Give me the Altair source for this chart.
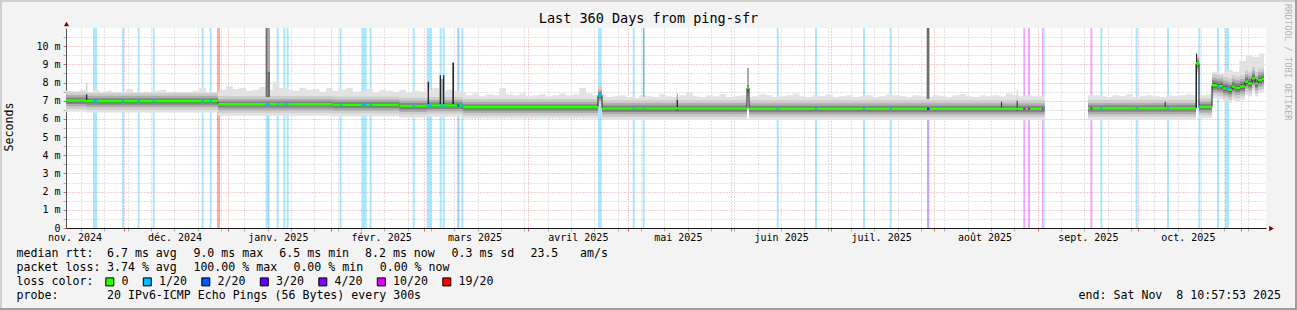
import altair as alt
import pandas as pd
from datetime import datetime, timedelta

MONO = "DejaVu Sans Mono"

# ------------------------------------------------------------------ time frame
END = datetime(2025, 11, 8, 10, 57, 53)
START = END - timedelta(days=360)


def day(dt):
    return round((dt - START).total_seconds() / 86400.0, 4)


month_starts = [datetime(2024, 12, 1)] + [datetime(2025, m, 1) for m in range(1, 12)]
mondays = [datetime(2024, 11, 18) + timedelta(weeks=k) for k in range(51)]
label_dates = [datetime(2024, 11, 16), datetime(2024, 12, 16)] + [datetime(2025, m, 16) for m in range(1, 11)]
label_text = ["nov. 2024", "déc. 2024", "janv. 2025", "févr. 2025", "mars 2025", "avril 2025",
              "mai 2025", "juin 2025", "juil. 2025", "août 2025", "sept. 2025", "oct. 2025"]
y_ticks = [v / 2 for v in range(0, 22)]          # 0 .. 10.5 ms

# ------------------------------------------------------------------ series (day offsets, ms)
# median change points; None closes a run of data (gap afterwards)
med_day = [0.0, 6.0, 45.6, 80.0, 100.0, 108.3, 119.0, 159.6, 160.8, 204.3, 204.9, 293.6,
           306.6, 339.0, 339.9, 343.8, 345.3, 347.1, 348.6, 349.8, 350.7, 352.2, 353.7,
           354.6, 355.8, 356.7, 357.6, 358.8, 359.4]
med_ms = [7.01, 6.97, 6.80, 6.77, 6.70, 6.74, 6.64, 7.30, 6.57, 7.70, 6.56, None,
          6.58, 9.05, 6.66, 7.85, 7.80, 7.68, 7.60, 7.78, 7.70, 7.78, 8.05,
          7.95, 8.23, 7.95, 8.14, 8.20, None]

# upper edge of the smoke, one value per 2-day cell
top_ms = [
    7.55, 7.5, 7.6, 7.45, 7.6, 7.5, 7.55, 7.4, 7.5, 7.65,
    7.45, 7.5, 7.4, 7.55, 7.6, 7.45, 7.5, 7.4, 7.45, 7.55,
    7.7, 7.5, 7.45,
    7.6, 7.8, 7.65, 7.7, 7.55, 7.6, 7.75, 7.6, 8.05, 7.7,
    7.6, 7.55, 7.7, 7.6, 7.65, 7.5, 7.7, 7.55, 7.6, 7.7,
    7.5, 7.55, 7.65, 7.45, 7.6, 7.55, 7.5, 7.6, 7.45, 7.55,
    7.5,
    7.6, 7.7, 7.5, 7.6, 7.55, 7.5,
    7.3, 7.4, 7.25, 7.35, 7.3, 7.7, 7.35, 7.3, 7.4, 7.25,
    7.3, 7.35, 7.25, 7.3, 7.4, 7.3, 7.35, 7.7, 7.4, 7.3,
    7.35, 7.2, 7.25, 7.3, 7.2, 7.15, 7.3, 7.25, 7.2, 7.35,
    7.25, 7.2, 7.3, 7.45, 7.25, 7.2, 7.3, 7.25, 7.35, 7.2,
    7.25, 7.3, 7.2, 7.25, 7.35, 7.3, 7.2, 7.25, 7.3, 7.4,
    7.25, 7.2, 7.3, 7.25, 7.35, 7.2, 7.25, 7.3, 7.2, 7.25,
    7.3, 7.2, 7.25, 7.35, 7.3, 7.25, 7.2, 7.3, 7.25, 7.2,
    7.3, 7.25, 7.2, 7.3, 7.35, 7.25, 7.2, 7.3, 7.25, 7.3,
    7.25, 7.4, 7.3, 7.25, 7.3, 7.25,
    7.25, None, None, None, None, None, None, 7.3,
    7.3, 7.25, 7.2, 7.3, 7.25, 7.35, 7.2, 7.25, 7.3, 7.25,
    7.2, 7.3, 7.25, 7.3, 7.35, 7.3, 7.3, 7.35,
    8.6, 8.5, 8.7, 8.6, 9.2, 9.5, 9.4, 9.6,
]

# smoke spread around the median (ms): normal period and the last, noisier days
lo_norm = [-0.62, -0.46, -0.32, -0.19, -0.09]
hi_norm = [None, 0.46, 0.30, 0.17, 0.07]
lo_wide = [-0.72, -0.55, -0.38, -0.24, -0.12]
hi_wide = [None, 0.62, 0.42, 0.26, 0.12]
wide_from = 343.8

# packet-loss bars
bar_d0 = [8.1, 16.8, 21.5, 26.0, 40.7, 43.1, 45.3, 59.9, 63.2, 65.2, 66.2, 82.1, 88.7, 91.1,
          104.0, 108.2, 112.1, 113.0, 117.4, 118.6, 159.6, 170.0, 173.0, 213.2, 224.7, 239.1,
          247.1, 258.3, 287.2, 288.6, 292.8, 293.2, 307.3, 310.3, 320.9, 330.3, 339.7, 345.3, 347.7]
bar_d1 = [9.3, 17.4, 22.1, 26.6, 41.3, 43.7, 46.2, 61.1, 63.8, 65.8, 66.8, 82.7, 90.2, 91.7,
          104.6, 109.7, 112.7, 113.6, 118.0, 119.2, 160.7, 170.6, 173.6, 213.8, 225.3, 239.7,
          247.7, 259.0, 287.8, 289.2, 293.2, 293.6, 307.9, 310.9, 321.5, 330.9, 340.3, 345.9, 348.9]
bar_lvl = ["1/20", "1/20", "1/20", "1/20", "1/20", "1/20", "19/20", "1/20", "1/20", "1/20", "1/20",
           "1/20", "1/20", "1/20", "1/20", "1/20", "1/20", "1/20", "2/20", "1/20", "1/20", "1/20",
           "1/20", "1/20", "1/20", "1/20", "1/20", "3/20", "10/20", "10/20", "10/20", "1/20",
           "10/20", "1/20", "1/20", "1/20", "1/20", "1/20", "1/20"]

# isolated high pings (narrow smoke columns)
spk_d0 = [6.0, 6.0, 59.9, 60.5, 60.5, 108.5, 112.1, 112.5, 113.1, 115.9, 159.6, 173.1, 183.2,
          183.2, 204.3, 258.2, 280.5, 285.2, 285.2, 329.6, 339.0]
spk_d1 = [6.4, 6.4, 60.5, 61.2, 61.2, 108.9, 112.5, 113.1, 113.5, 116.4, 160.8, 173.5, 183.6,
          183.6, 204.9, 259.0, 280.8, 285.5, 285.5, 329.9, 339.3]
spk_lo = [6.95, 7.35, 7.2, 8.6, 7.2, 6.8, 6.7, 7.0, 6.7, 6.7, 7.6, 7.2, 6.45,
          7.05, 8.0, 7.1, 6.5, 6.45, 7.0, 6.5, 6.6]
spk_hi = [7.35, 8.0, 11.0, 11.0, 8.6, 8.05, 8.4, 8.2, 8.4, 9.1, 7.85, 11.0, 7.05,
          7.4, 8.8, 11.0, 6.95, 7.0, 7.6, 6.95, 9.6]
spk_tone = ["black", "light", "dark", "mid", "dark", "black", "black", "mid", "black", "black",
            "light", "mid", "black", "mid", "mid", "dark", "black", "black", "light", "black", "black"]

loss_levels = ["0", "1/20", "2/20", "3/20", "4/20", "10/20", "19/20"]

legend_rows = [
    ["median rtt:", "6.7 ms avg", "9.0 ms max", "6.5 ms min", "8.2 ms now", "0.3 ms sd", "23.5", "am/s"],
    ["packet loss:", "3.74 % avg", "100.00 % max", "0.00 % min", "0.00 % now"],
    ["loss color:"],
    ["probe:", "20 IPv6-ICMP Echo Pings (56 Bytes) every 300s"],
]
end_text = "end: Sat Nov\u00a0 8 10:57:53 2025"
title_text = "Last 360 Days from ping-sfr"
ylabel_text = "Seconds"
credit_text = "RRDTOOL / TOBI OETIKER"

# ------------------------------------------------------------------ styles
loss_colors = ["#26ff00", "#00b8ff", "#0059ff", "#5e00ff", "#7e00ff", "#dd00ff", "#ff0000"]
smoke_shades = ["#e2e2e2", "#cdcdcd", "#adadad", "#868686", "#5c5c5c"]
tone_names = ["black", "dark", "mid", "light"]
tone_colors = ["#2a2a2a", "#6e6e6e", "#a8a8a8", "#d0d0d0"]
RED_GRID = "#f09a9a"
GRAY_GRID = "#c6c6c6"
row_x = [[-49.4, 41, 127.4, 213.3, 299, 385.5, 464.4, 514],
         [-49.4, 41, 127.4, 227.4, 313.7],
         [-49.4],
         [-49.4, 41]]
row_y = [226, 240, 254, 268]

# ------------------------------------------------------------------ tables
runs, cur = [], []
for d, v in zip(med_day, med_ms):
    if v is None:
        runs.append((cur, d))
        cur = []
    else:
        cur.append((d, v))


def median_at(t):
    for pts, end in runs:
        if pts[0][0] <= t < end:
            val = pts[0][1]
            for d, v in pts:
                if d <= t:
                    val = v
            return val
    return None


smoke_rows, line_rows, med_rows = [], [], []
for r, (pts, end) in enumerate(runs):
    start = pts[0][0]
    cuts = sorted(set([d for d, _ in pts] +
                      [2.0 * i for i in range(len(top_ms)) if start < 2.0 * i < end]))
    for p in cuts + [end]:
        q = p if p < end else cuts[-1]
        m = median_at(q)
        plo, phi = (lo_wide, hi_wide) if q >= wide_from else (lo_norm, hi_norm)
        cell = top_ms[min(int(q // 2), len(top_ms) - 1)]
        top = max(cell if cell is not None else 0.0, m + phi[1] + 0.05)
        for b in range(len(smoke_shades)):
            smoke_rows.append({"d": p, "run": r, "band": b,
                               "lo": round(m + plo[b], 3),
                               "hi": round(top if b == 0 else m + phi[b], 3)})
    for i, (d, v) in enumerate(pts):
        line_rows.append({"d": d, "v": v, "run": r})
        d1 = pts[i + 1][0] if i + 1 < len(pts) else end
        med_rows.append({"d0": d, "d1": d1, "lo": v - 0.07, "hi": v + 0.07, "lvl": "0"})
    line_rows.append({"d": end, "v": pts[-1][1], "run": r})

for d0, d1, lvl in zip(bar_d0, bar_d1, bar_lvl):
    if lvl == "19/20":
        continue
    m = median_at((d0 + d1) / 2)
    if m is not None:
        med_rows.append({"d0": d0, "d1": d1, "lo": m - 0.07, "hi": m + 0.07, "lvl": lvl})

smoke_df = pd.DataFrame(smoke_rows)
line_df = pd.DataFrame(line_rows)
med_df = pd.DataFrame(med_rows)
bar_df = pd.DataFrame({"d0": bar_d0, "d1": bar_d1, "lvl": bar_lvl})
spk_df = pd.DataFrame({"d0": spk_d0, "d1": spk_d1, "lo": spk_lo, "hi": spk_hi, "tone": spk_tone})

# ------------------------------------------------------------------ scales & axes
xs = alt.Scale(domain=[0, 360], nice=False, zero=False)
ys = alt.Scale(domain=[0, 11], nice=False)
loss_scale = alt.Scale(domain=loss_levels, range=loss_colors)

grid_major = [day(d) for d in month_starts]
grid_vals = sorted(set(grid_major + [day(d) for d in mondays]))
major_test = "indexof([" + ",".join(repr(v) for v in grid_major) + "], datum.value) >= 0"
label_pos = [day(d) for d in label_dates]
label_expr = ("[" + ",".join("'" + t + "'" for t in label_text) + "][indexof([" +
              ",".join(repr(v) for v in label_pos) + "], datum.value)]")

x_grid_axis = alt.Axis(orient="bottom", values=grid_vals, labels=False, ticks=True, tickSize=3,
                       tickColor={"condition": {"test": major_test, "value": "#e06666"}, "value": "#b0b0b0"},
                       grid=True, gridDash=[1, 2], gridWidth=1,
                       gridColor={"condition": {"test": major_test, "value": RED_GRID}, "value": GRAY_GRID},
                       domain=False, title=None)
x_label_axis = alt.Axis(orient="bottom", values=label_pos, labelExpr=label_expr, ticks=False, grid=False,
                        domain=True, domainColor="#1a1a1a", domainWidth=1, labelFont=MONO, labelFontSize=10,
                        labelColor="black", labelPadding=4, labelFlush=False, labelOverlap=False, title=None)
int_test = "datum.value % 1 == 0"
y_axis = alt.Axis(orient="left", values=y_ticks,
                  labelExpr="datum.value % 1 == 0 ? (datum.value == 0 ? '0\u00a0\u00a0' : datum.value + ' m') : ''",
                  tickSize=3, tickColor={"condition": {"test": int_test, "value": "#e06666"}, "value": "#b0b0b0"},
                  grid=True, gridDash=[1, 2], gridWidth=1,
                  gridColor={"condition": {"test": int_test, "value": RED_GRID}, "value": GRAY_GRID},
                  domain=True, domainColor="#555555", domainWidth=1, labelFont=MONO, labelFontSize=10,
                  labelColor="black", labelPadding=3, labelOverlap=False, labelFlush=False, title=None)

# ------------------------------------------------------------------ layers
layers = []

layers.append(
    alt.Chart(bar_df).transform_calculate(ylo="0", yhi="11").mark_rect(opacity=0.34).encode(
        x=alt.X("d0:Q", scale=xs, axis=x_grid_axis),
        x2="d1:Q",
        y=alt.Y("ylo:Q", scale=ys, axis=y_axis),
        y2="yhi:Q",
        color=alt.Color("lvl:N", scale=loss_scale, legend=None),
    )
)

for b, shade in enumerate(smoke_shades):
    layers.append(
        alt.Chart(smoke_df).transform_filter(f"datum.band == {b}")
        .mark_area(interpolate="step-after", color=shade, opacity=1)
        .encode(x=alt.X("d:Q", scale=xs, axis=None),
                y=alt.Y("lo:Q", scale=ys, axis=None),
                y2="hi:Q",
                detail="run:N")
    )

layers.append(
    alt.Chart(spk_df).mark_rect().encode(
        x=alt.X("d0:Q", scale=xs, axis=None), x2="d1:Q",
        y=alt.Y("lo:Q", scale=ys, axis=None), y2="hi:Q",
        color=alt.Color("tone:N", scale=alt.Scale(domain=tone_names, range=tone_colors), legend=None),
    )
)

layers.append(
    alt.Chart(line_df).mark_line(interpolate="step-after", color="#202020", strokeWidth=1).encode(
        x=alt.X("d:Q", scale=xs, axis=None),
        y=alt.Y("v:Q", scale=ys, axis=None),
        detail="run:N",
    )
)

layers.append(
    alt.Chart(med_df).mark_rect().encode(
        x=alt.X("d0:Q", scale=xs, axis=x_label_axis), x2="d1:Q",
        y=alt.Y("lo:Q", scale=ys, axis=None), y2="hi:Q",
        color=alt.Color("lvl:N", scale=loss_scale,
                        legend=alt.Legend(title=None, orient="none", legendX=38, legendY=248,
                                          direction="horizontal", columns=7, symbolType="square",
                                          symbolSize=64, symbolStrokeColor="black", symbolStrokeWidth=1,
                                          symbolOpacity=1, labelFont=MONO, labelFontSize=11.6,
                                          labelColor="black", columnPadding=11.5, labelOffset=6,
                                          padding=0)),
    )
)


def one_row():
    return pd.DataFrame({"k": [0]})


def text_layer(s, x, y, size=11.6, align="left", angle=0, color="black"):
    return alt.Chart(pd.DataFrame({"t": [s]})).mark_text(
        align=align, baseline="middle", font=MONO, fontSize=size, color=color, angle=angle
    ).encode(x=alt.value(x), y=alt.value(y), text="t:N")


for row, xs_row, y in zip(legend_rows, row_x, row_y):
    for s, x in zip(row, xs_row):
        layers.append(text_layer(s, x, y))
layers.append(text_layer(end_text, 1215, 268, align="right"))
layers.append(text_layer(title_text, 582.5, -9, size=13.5, align="center"))
layers.append(text_layer(ylabel_text, -56, 99, size=11.6, align="center", angle=270))
layers.append(text_layer(credit_text, 1222, -24, size=8.8, align="left", angle=90, color="#b4b4b4"))

# axis arrows
layers.append(alt.Chart(one_row()).mark_point(shape="triangle-up", filled=True, size=28, color="#7f0000",
                                              opacity=1).encode(x=alt.value(0.5), y=alt.value(-4)))
layers.append(alt.Chart(one_row()).mark_point(shape="triangle-right", filled=True, size=28, color="#7f0000",
                                              opacity=1).encode(x=alt.value(1205.5), y=alt.value(200.5)))

# frame of the image
layers.append(alt.Chart(one_row()).mark_rule(color="#cfcfcf", strokeWidth=2).encode(
    x=alt.value(-66), x2=alt.value(1231), y=alt.value(-27)))
layers.append(alt.Chart(one_row()).mark_rule(color="#cfcfcf", strokeWidth=2).encode(
    x=alt.value(-65), y=alt.value(-28), y2=alt.value(282)))
layers.append(alt.Chart(one_row()).mark_rule(color="#9e9e9e", strokeWidth=2).encode(
    x=alt.value(-66), x2=alt.value(1231), y=alt.value(281)))
layers.append(alt.Chart(one_row()).mark_rule(color="#9e9e9e", strokeWidth=2).encode(
    x=alt.value(1230), y=alt.value(-28), y2=alt.value(282)))

chart = (
    alt.layer(*layers)
    .resolve_scale(color="independent")
    .resolve_axis(x="independent", y="independent")
    .properties(width=1200, height=200,
                padding={"left": 66, "top": 28, "right": 31, "bottom": 82},
                autosize=alt.AutoSizeParams(type="none"),
                background="#f3f3f3")
    .configure_view(fill="white", strokeWidth=0)
)

chart.save("out.html", embed_options={"renderer": "svg", "actions": False})
